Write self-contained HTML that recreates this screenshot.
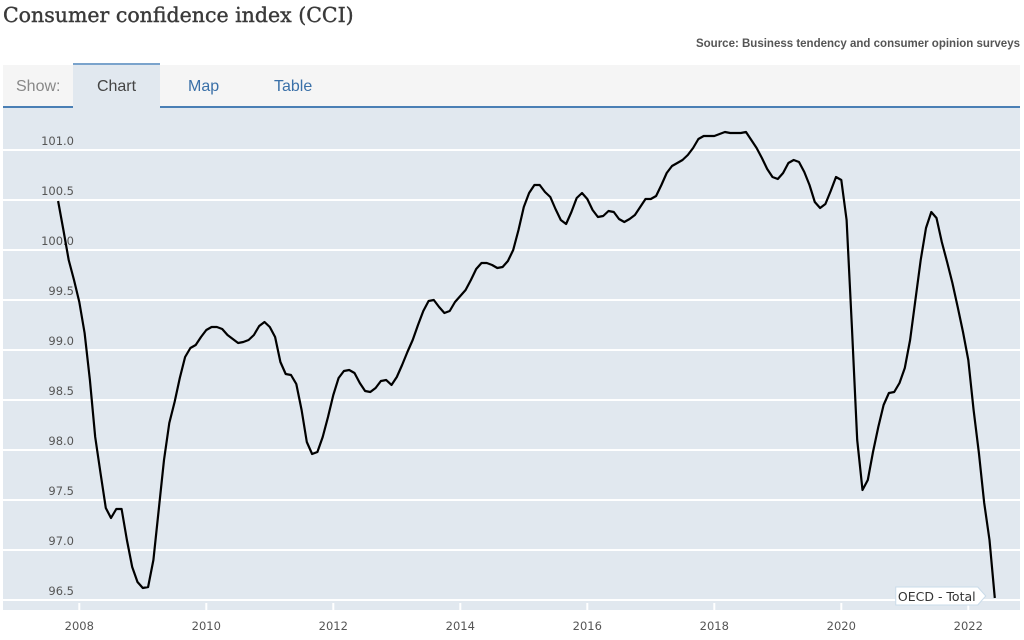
<!DOCTYPE html>
<html><head><meta charset="utf-8"><style>
body{margin:0;width:1024px;height:640px;background:#fff;overflow:hidden;font-family:"Liberation Sans",sans-serif;position:relative}
.title{position:absolute;left:3px;top:3px;font-family:"DejaVu Serif","Liberation Serif",serif;font-size:20.5px;color:#3a3a3a;-webkit-text-stroke:0.4px #3a3a3a}
.source{position:absolute;right:4px;top:38px;font-size:11.5px;font-weight:bold;color:#555}
.tabs{position:absolute;left:3px;top:65px;width:1017px;height:41px;background:#f5f5f5;border-bottom:2px solid #4a7fb5}
.tab{position:absolute;top:0;height:41px;line-height:43px;font-size:16px}
svg{position:absolute;left:0;top:0}
</style></head><body>
<div class="title">Consumer confidence index (CCI)</div>
<div class="source">Source: Business tendency and consumer opinion surveys</div>
<div class="tabs">
<div class="tab" style="left:13px;color:#888">Show:</div>
<div class="tab" style="left:70px;width:87px;text-align:center;background:#e1e8ef;border-top:2px solid #7aa3cc;top:-2px;color:#444;z-index:2;height:45px">Chart</div>
<div class="tab" style="left:185px;color:#3a70a8">Map</div>
<div class="tab" style="left:271px;color:#3a70a8">Table</div>
</div>
<svg id="chart" width="1024" height="640"></svg>
<script>
const yTicks=[101.0,100.5,100.0,99.5,99.0,98.5,98.0,97.5,97.0,96.5];
const xTickYears=[2008,2010,2012,2014,2016,2018,2020,2022];
const startYear=2007, startMonth=8; // Sep 2007 (0-based month)
const seriesName="OECD - Total";
const values=[100.49,100.2,99.9,99.7,99.48,99.17,98.7,98.13,97.77,97.42,97.32,97.41,97.41,97.1,96.83,96.68,96.62,96.63,96.9,97.4,97.9,98.27,98.48,98.72,98.93,99.02,99.05,99.13,99.2,99.23,99.23,99.21,99.15,99.11,99.07,99.08,99.1,99.15,99.24,99.28,99.23,99.13,98.88,98.76,98.75,98.66,98.4,98.08,97.96,97.98,98.13,98.33,98.55,98.72,98.79,98.8,98.77,98.67,98.59,98.58,
98.62,98.69,98.7,98.65,98.73,98.85,98.98,99.1,99.25,99.39,99.49,99.5,99.43,99.37,99.39,99.48,99.54,99.6,99.7,99.81,99.87,99.87,99.85,99.82,99.83,99.89,100.0,100.2,100.43,100.57,100.65,100.65,100.58,100.53,100.41,100.3,100.26,100.38,100.52,100.57,100.51,100.4,100.33,100.34,100.39,100.38,100.31,100.28,100.31,100.35,100.43,100.51,100.51,100.54,100.65,100.77,100.84,100.87,100.9,100.95,101.02,101.11,
101.14,101.14,101.14,101.16,101.18,101.17,101.17,101.17,101.18,101.1,101.02,100.92,100.81,100.73,100.71,100.77,100.87,100.9,100.88,100.78,100.65,100.48,100.42,100.46,100.59,100.73,100.7,100.3,99.23,98.1,97.6,97.7,97.98,98.23,98.45,98.57,98.58,98.67,98.82,99.1,99.5,99.9,100.22,100.38,100.32,100.08,99.88,99.67,99.43,99.18,98.9,98.4,97.97,97.47,97.1,96.52];
const NS="http://www.w3.org/2000/svg";
const svg=document.getElementById('chart');
const X=t=>79.3+(t-2008)*63.5;
const Y=v=>150+(101-v)*100;
function mk(tag,attrs,parent){const e=document.createElementNS(NS,tag);for(const k in attrs)e.setAttribute(k,attrs[k]);(parent||svg).appendChild(e);return e;}
const bg=mk('rect',{x:3,y:108,width:1017,height:502,fill:'#e1e8ef'});


yTicks.forEach(v=>{
 const l=mk('line',{x1:3,x2:1020,y1:Y(v),y2:Y(v),stroke:'#fff','stroke-width':2});
 
 
 const t=mk('text',{x:74,y:Y(v)-5,'text-anchor':'end','font-size':11.5,fill:'#555','font-family':'DejaVu Sans, sans-serif'});
 t.textContent=v.toFixed(1);
 
 
});
xTickYears.forEach(yr=>{
 const l=mk('line',{x1:X(yr),x2:X(yr),y1:603,y2:610,stroke:'#fff','stroke-width':2});
 
 
 const t=mk('text',{x:X(yr),y:630,'text-anchor':'middle','font-size':11.5,fill:'#555','font-family':'DejaVu Sans, sans-serif'});
 t.textContent=yr;
 
 
});
const pts=values.map((v,i)=>X(startYear+(startMonth+i)/12).toFixed(1)+','+Y(v).toFixed(1)).join(' ');
const line=mk('polyline',{points:pts,fill:'none',stroke:'#000','stroke-width':2.2,'stroke-linejoin':'round'});


const lastX=X(startYear+(startMonth+values.length-1)/12), lastY=Y(values[values.length-1]);
const g=mk('g',{});


mk('path',{d:`M${lastX-99},${lastY-11} h82 l8,9 l-8,9 h-82 z`,fill:'#fff',stroke:'#c9dbe9','stroke-width':1},g);
const tl=mk('text',{x:lastX-58,y:lastY+3,'text-anchor':'middle','font-size':12.5,fill:'#333','font-family':'DejaVu Sans, sans-serif'},g);
tl.textContent=seriesName;
</script>
</body></html>
